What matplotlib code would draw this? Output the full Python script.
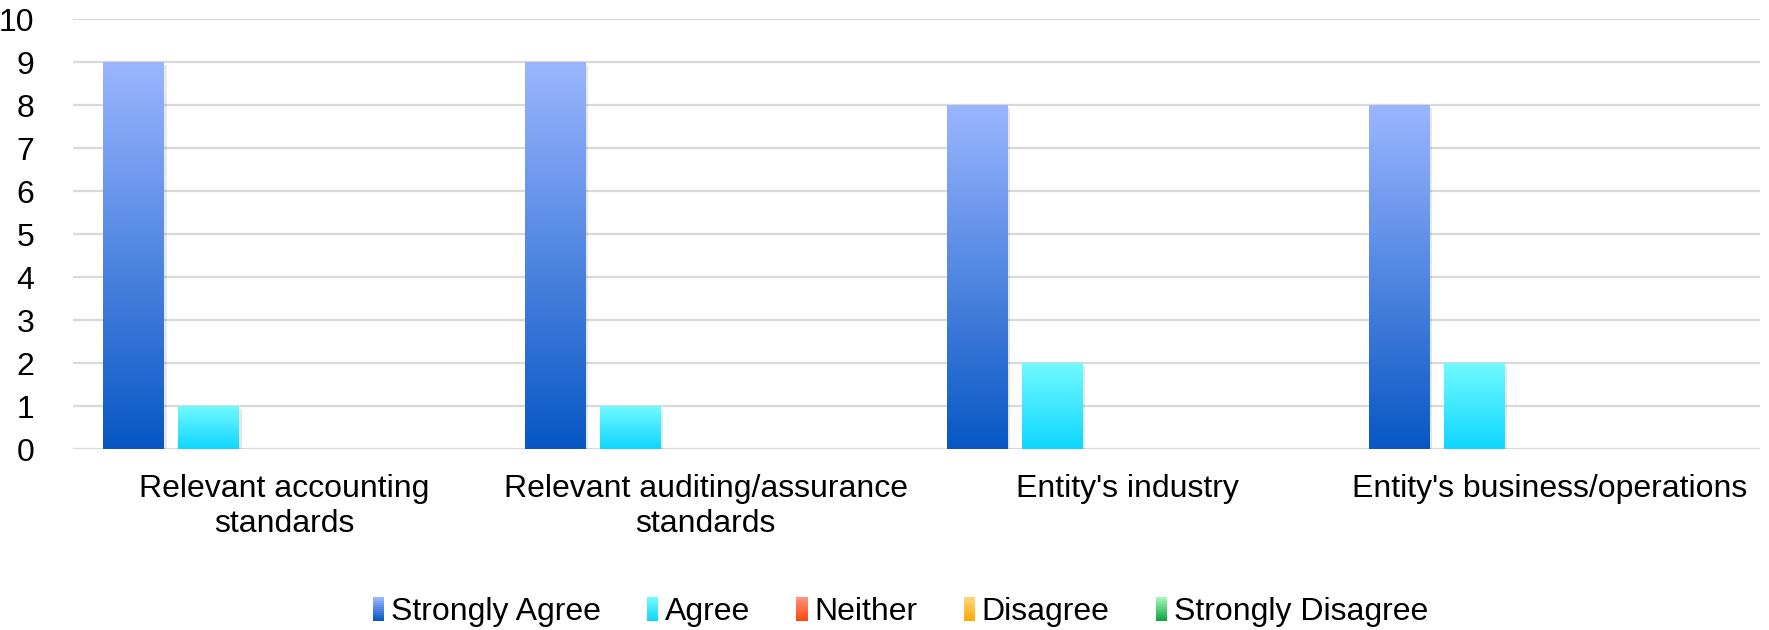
import numpy as np
import matplotlib
matplotlib.use("Agg")
import matplotlib.pyplot as plt
import matplotlib.patheffects as pe
from matplotlib.colors import LinearSegmentedColormap
from matplotlib.patches import Patch, Rectangle
from matplotlib.legend_handler import HandlerBase

plt.rcParams['font.family'] = ['Liberation Sans', 'DejaVu Sans']

categories = ["Relevant accounting\nstandards",
              "Relevant auditing/assurance\nstandards",
              "Entity's industry",
              "Entity's business/operations"]
series = ["Strongly Agree", "Agree", "Neither", "Disagree", "Strongly Disagree"]
strongly_agree = [9, 9, 8, 8]
agree = [1, 1, 2, 2]
neither = [0, 0, 0, 0]
disagree = [0, 0, 0, 0]
strongly_disagree = [0, 0, 0, 0]
values = [strongly_agree, agree, neither, disagree, strongly_disagree]

# top colour, bottom colour for each series
grads = [("#9bb6ff", "#0757c4"),
         ("#70faff", "#0fd6ff"),
         ("#ff9478", "#ff4612"),
         ("#ffd479", "#ffa90a"),
         ("#a3f5b5", "#12a540")]


class GradientHandler(HandlerBase):
    # legend key drawn as a stack of thin strips, light on top
    def create_artists(self, legend, orig_handle, xdescent, ydescent,
                       width, height, fontsize, trans):
        cmap = orig_handle.cmap
        n = 12
        out = []
        for k in range(n):
            r = Rectangle((-xdescent, -ydescent + height * k / n), width, height / n + 0.3,
                          facecolor=cmap(k / (n - 1)), edgecolor="none", transform=trans)
            out.append(r)
        return out


fig = plt.figure(figsize=(17.69, 6.30), dpi=100)
ax = fig.add_axes([0.0413, 0.2873, 0.9537, 0.6825])

slot = 0.1778
bw = 0.1446
x = np.arange(len(categories))
ramp = np.linspace(0, 1, 256).reshape(-1, 1)
cmaps = []

for i, (vals, (top, bot)) in enumerate(zip(values, grads)):
    pos = x + (i - 2) * slot
    bars = ax.bar(pos, vals, width=bw, color=bot, zorder=3,
                  path_effects=[pe.SimplePatchShadow(offset=(1.5, -2), alpha=0.12, shadow_rgbFace="#444444"),
                                pe.Normal()])
    cmap = LinearSegmentedColormap.from_list("g%d" % i, [bot, top])
    cmaps.append(cmap)
    for b in bars:
        h = b.get_height()
        if h <= 0:
            continue
        x0 = b.get_x()
        im = ax.imshow(ramp, cmap=cmap, origin="lower", aspect="auto",
                       extent=[x0, x0 + b.get_width(), 0, h], zorder=4)
        im.set_clip_path(b)

ax.set_xlim(-0.5, len(categories) - 0.5)
ax.set_ylim(0, 10)
ax.set_yticks(range(0, 11))
ax.set_xticks(x)
ax.set_xticklabels(categories, fontsize=23, linespacing=1.2)
ax.tick_params(axis="y", labelsize=23, length=0, pad=28)
ax.tick_params(axis="x", length=0, pad=18)
ax.grid(axis="y", color="#d9d9d9", linewidth=1.6, zorder=0)
ax.set_axisbelow(True)
for s in ax.spines.values():
    s.set_visible(False)

handles = []
for cm in cmaps:
    p = Patch(facecolor=cm(0.5), edgecolor="none")
    p.cmap = cm
    handles.append(p)
fig.legend(handles, series, loc="center", bbox_to_anchor=(0.509, 0.028), ncol=5,
           frameon=False, fontsize=23, handlelength=0.36, handleheight=0.75,
           handletextpad=0.2, columnspacing=1.45,
           handler_map={Patch: GradientHandler()})

fig.savefig("out.png", dpi=100)
